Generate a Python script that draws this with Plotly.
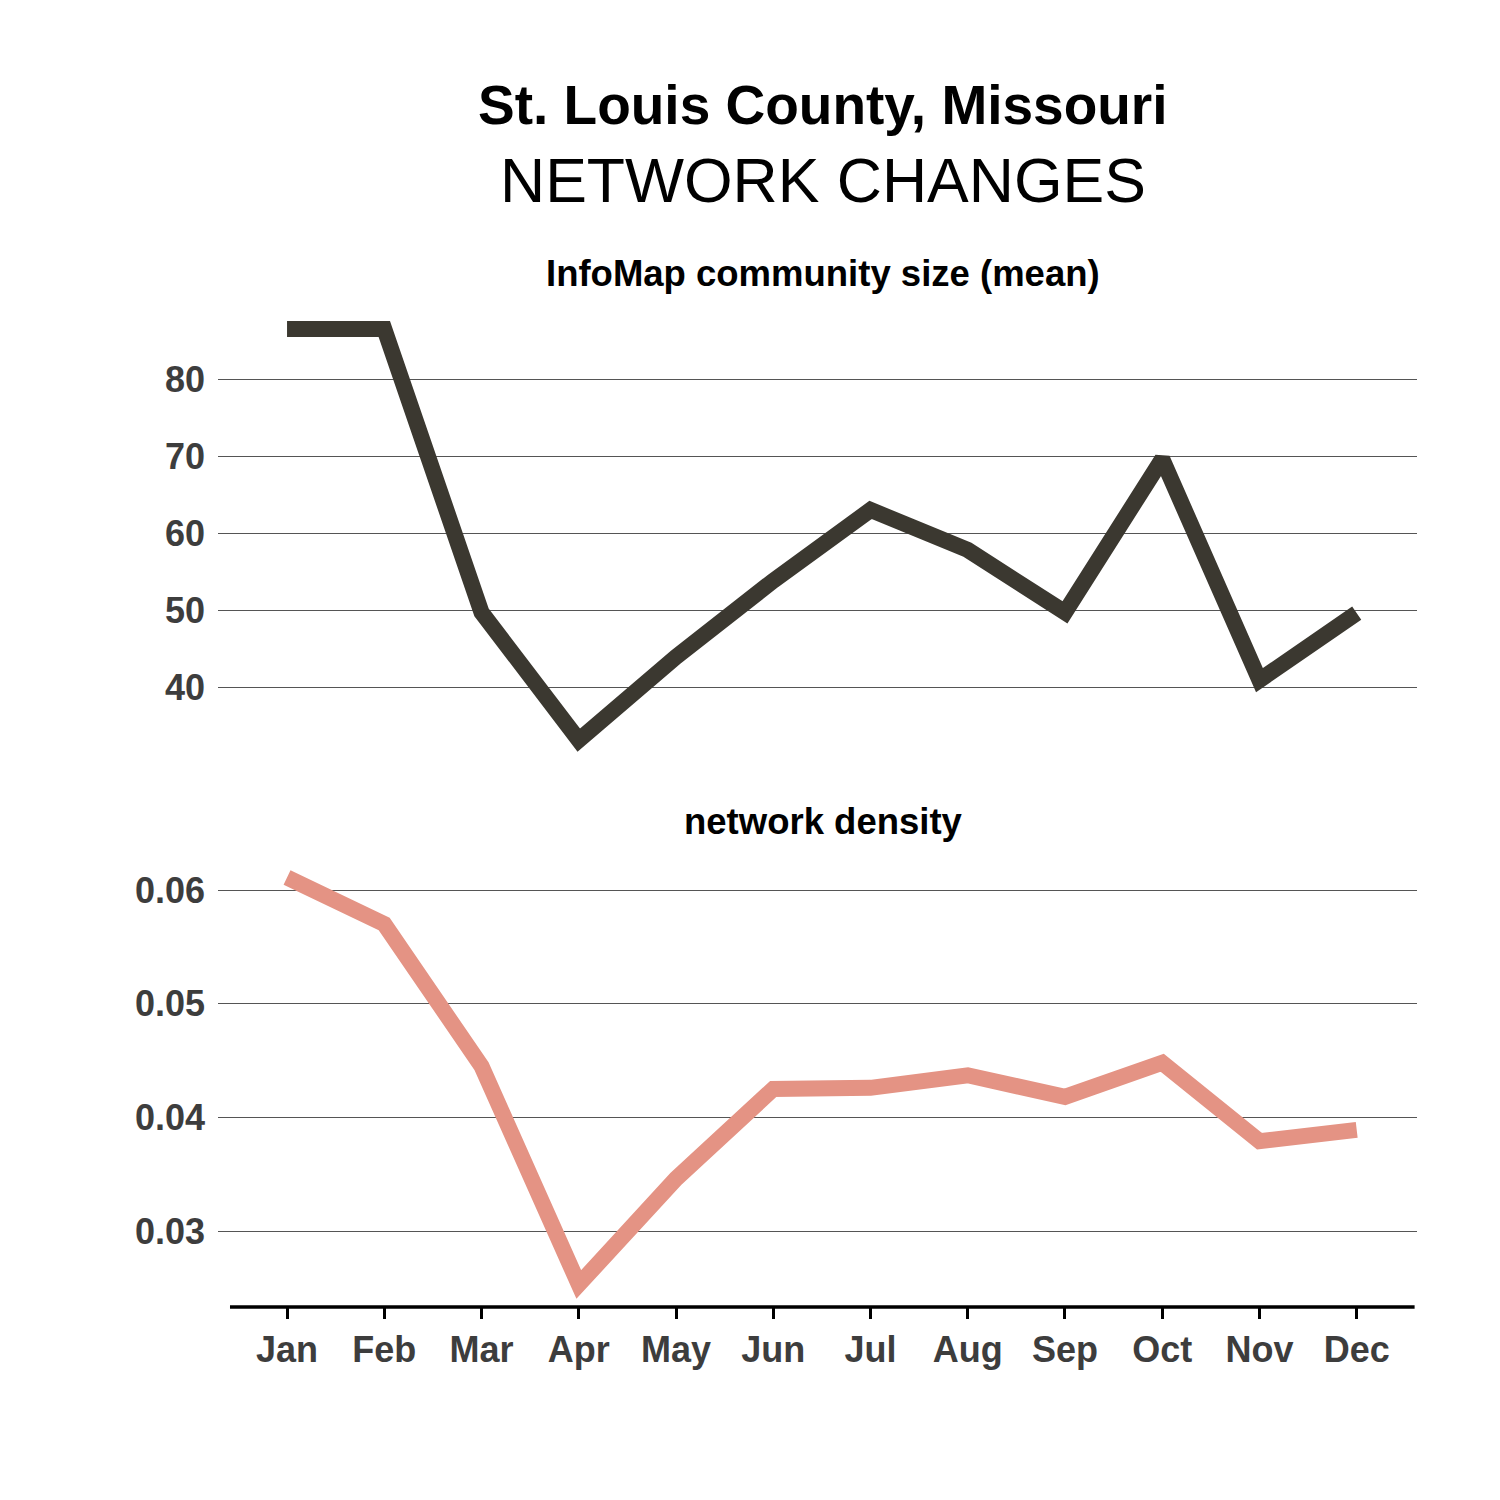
import plotly.graph_objects as go

months = ["Jan", "Feb", "Mar", "Apr", "May", "Jun", "Jul", "Aug", "Sep", "Oct", "Nov", "Dec"]
community_size = [86.5, 86.5, 49.7, 33.1, 43.9, 53.8, 63.0, 57.8, 49.7, 69.6, 40.9, 49.6]
density = [0.0611, 0.0570, 0.0445, 0.0253, 0.0346, 0.0425, 0.0426, 0.0437, 0.0418, 0.0448, 0.0379, 0.0389]

title_line1 = "St. Louis County, Missouri"
title_line2 = "NETWORK CHANGES"
sub1 = "InfoMap community size (mean)"
sub2 = "network density"

x_idx = list(range(len(months)))
FONT = "Liberation Sans, Arial, sans-serif"
TICKCOL = "#3d3d3d"
GRID = "#555555"

fig = go.Figure()
fig.add_trace(go.Scatter(x=x_idx, y=community_size, mode="lines",
                         line=dict(color="#3b3830", width=16),
                         xaxis="x", yaxis="y", showlegend=False, hoverinfo="skip"))
fig.add_trace(go.Scatter(x=x_idx, y=density, mode="lines",
                         line=dict(color="#e49384", width=16),
                         xaxis="x2", yaxis="y2", showlegend=False, hoverinfo="skip"))

xr = [-0.71, 11.62]
fig.update_layout(
    width=1500, height=1500,
    paper_bgcolor="white", plot_bgcolor="white",
    margin=dict(l=210, r=91, t=292, b=201),
    font=dict(family=FONT, color=TICKCOL),
    xaxis=dict(domain=[0, 1], range=xr, anchor="y", showticklabels=False,
               showgrid=False, zeroline=False, showline=False, ticks=""),
    yaxis=dict(domain=[0.5382, 1.0], range=[29.87, 90.26], anchor="x",
               tickvals=[40, 50, 60, 70, 80], showgrid=True, gridcolor=GRID, gridwidth=1.2,
               zeroline=False, showline=False, ticks="",
               tickfont=dict(family=FONT, size=36, color=TICKCOL, weight="bold"),
               ticklabelstandoff=12),
    xaxis2=dict(domain=[0, 1], range=xr, anchor="y2",
                tickvals=x_idx, ticktext=months, showgrid=False, zeroline=False,
                showline=False, ticks="outside", ticklen=11, tickwidth=3, tickcolor="black",
                tickfont=dict(family=FONT, size=36, color=TICKCOL, weight="bold")),
    yaxis2=dict(domain=[0, 0.4439], range=[0.02332, 0.06264], anchor="x2",
                tickvals=[0.03, 0.04, 0.05, 0.06], tickformat=".2f",
                showgrid=True, gridcolor=GRID, gridwidth=1.2,
                zeroline=False, showline=False, ticks="",
                tickfont=dict(family=FONT, size=36, color=TICKCOL, weight="bold"),
                ticklabelstandoff=12),
)

fig.add_shape(type="line", xref="paper", yref="paper", x0=0.01, x1=0.998, y0=0, y1=0,
              line=dict(color="black", width=3.5), layer="above")

cx = 0.505
fig.add_annotation(text="<b>" + title_line1 + "</b>", xref="paper", yref="paper",
                   x=cx, y=1.1936, showarrow=False, xanchor="center", yanchor="middle",
                   font=dict(family=FONT, size=55, color="black"))
fig.add_annotation(text=title_line2, xref="paper", yref="paper",
                   x=cx, y=1.1192, showarrow=False, xanchor="center", yanchor="middle",
                   font=dict(family=FONT, size=62.5, color="black"))
fig.add_annotation(text="<b>" + sub1 + "</b>", xref="paper", yref="paper",
                   x=cx, y=1.0268, showarrow=False, xanchor="center", yanchor="middle",
                   font=dict(family=FONT, size=36.5, color="black"))
fig.add_annotation(text="<b>" + sub2 + "</b>", xref="paper", yref="paper",
                   x=cx, y=0.4826, showarrow=False, xanchor="center", yanchor="middle",
                   font=dict(family=FONT, size=36.5, color="black"))

fig.write_html("out.html")
